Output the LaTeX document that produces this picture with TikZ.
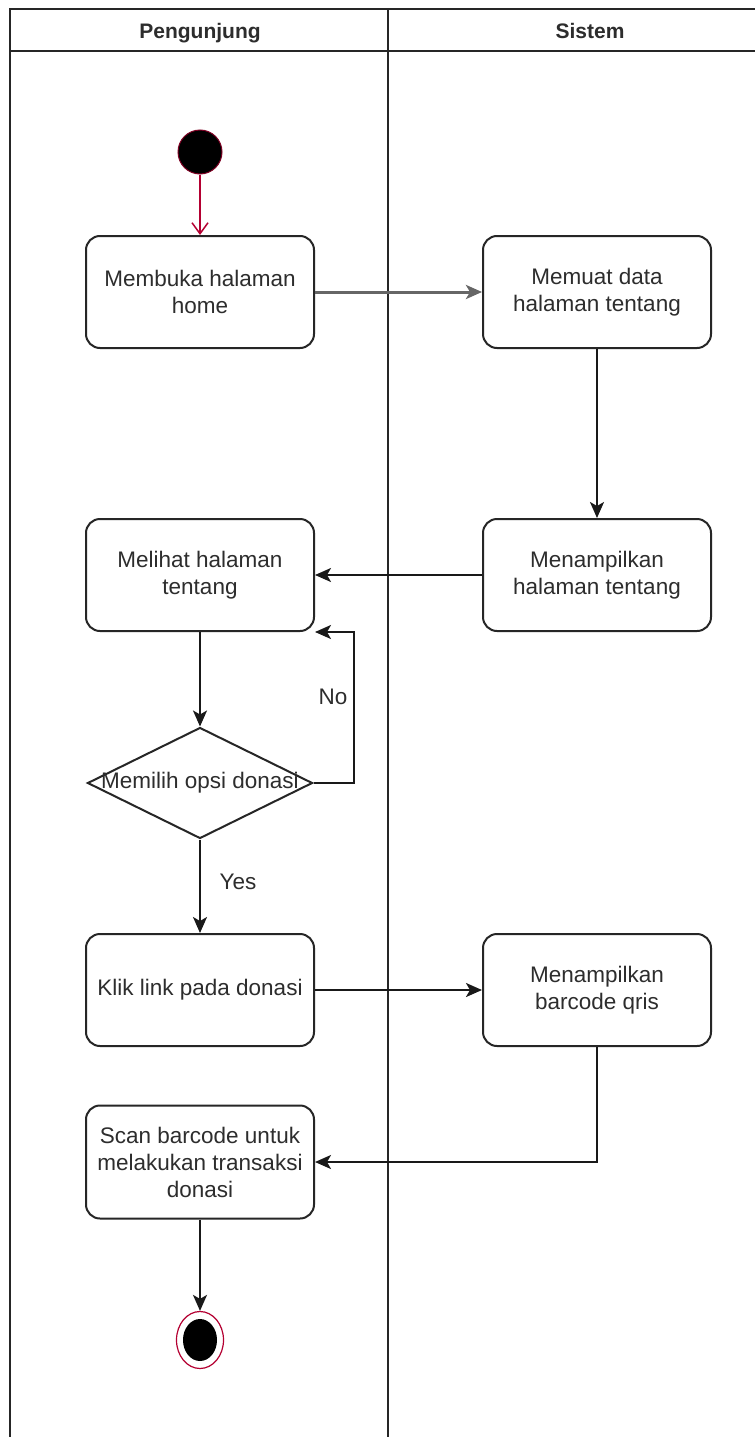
\documentclass[tikz,border=0pt]{standalone}
\usepackage{fontspec}
\setmainfont{Liberation Sans}
\usetikzlibrary{shapes.geometric,arrows.meta}
\definecolor{txt}{RGB}{45,45,45}
\definecolor{startred}{RGB}{180,0,50}
\tikzset{
  lane/.style={line width=2pt, draw=black!85},
  act/.style={draw=black!85, line width=2pt, rounded corners=14pt, minimum width=228pt, minimum height=112pt, align=center, text=txt, inner sep=0pt, font=\fontsize{22.5}{27}\selectfont},
  dec/.style={draw=black!85, line width=2pt, shape=diamond, minimum width=225pt, minimum height=111pt, inner sep=0pt},
  tip/.style={-{Stealth[length=16pt,width=14pt,inset=4pt]}},
  arr/.style={line width=2pt, draw=black!90, tip},
  lbl/.style={text=txt, font=\fontsize{22.5}{27}\selectfont, inner sep=0pt},
  head/.style={text=txt, font=\bfseries\fontsize{21}{25}\selectfont, inner sep=0pt, anchor=base}
}
\begin{document}
\begin{tikzpicture}[x=1pt,y=-1pt]
\useasboundingbox (0,0) rectangle (755,1437);
\fill[white] (0,0) rectangle (755,1437);
% swimlanes
\draw[lane] (10,1437) -- (10,9) -- (755,9);
\draw[lane] (10,51) -- (755,51);
\draw[lane] (388,9) -- (388,1437);
\node[head] (h1) at (200,39) {Pengunjung};
\node[head] (h2) at (590,39) {Sistem};
% start
\node[circle, fill=black, draw=startred!70!black, line width=1pt, minimum size=44pt, inner sep=0pt] (start) at (200,152) {};
% activities
\node[act] (b1) at (200,292) {Membuka halaman\\home};
\node[act] (b2) at (597,292) {Memuat data\\halaman tentang};
\node[act] (b3) at (597,575) {Menampilkan\\halaman tentang};
\node[act] (b4) at (200,575) {Melihat halaman\\tentang};
\node[dec, label={[lbl]center:Memilih opsi donasi}] (dia) at (200,783) {};
\node[act] (b5) at (200,990) {Klik link pada donasi};
\node[act] (b6) at (597,990) {Menampilkan\\barcode qris};
\node[act, minimum height=113pt] (b7) at (200,1162) {Scan barcode untuk\\melakukan transaksi\\donasi};
% end
\node[ellipse, draw=startred, line width=1.2pt, fill=white, minimum width=47pt, minimum height=57pt, inner sep=0pt] (endo) at (200,1340) {};
\node[ellipse, fill=black, minimum width=34pt, minimum height=42pt, inner sep=0pt] (endi) at (200,1340) {};
% connectors
\draw[line width=1.5pt, draw=startred, -{Straight Barb[length=11pt,width=16pt]}] (start) -- (b1);
\draw[line width=3pt, draw=black!55, color=black!60, tip] (b1) -- (b2);
\draw[arr] (b2) -- (b3);
\draw[arr] (b3) -- (b4);
\draw[arr] (b4) -- (dia);
\draw[arr] (dia.east) -- ++(40,0) |- (b4.south east);
\node[lbl] (no) at (333,697) {No};
\draw[arr] (dia) -- (b5);
\node[lbl] (yes) at (238,882) {Yes};
\draw[arr] (b5) -- (b6);
\draw[arr] (b6.south) |- (b7.east);
\draw[arr] (b7) -- (endo);
\end{tikzpicture}
\end{document}
